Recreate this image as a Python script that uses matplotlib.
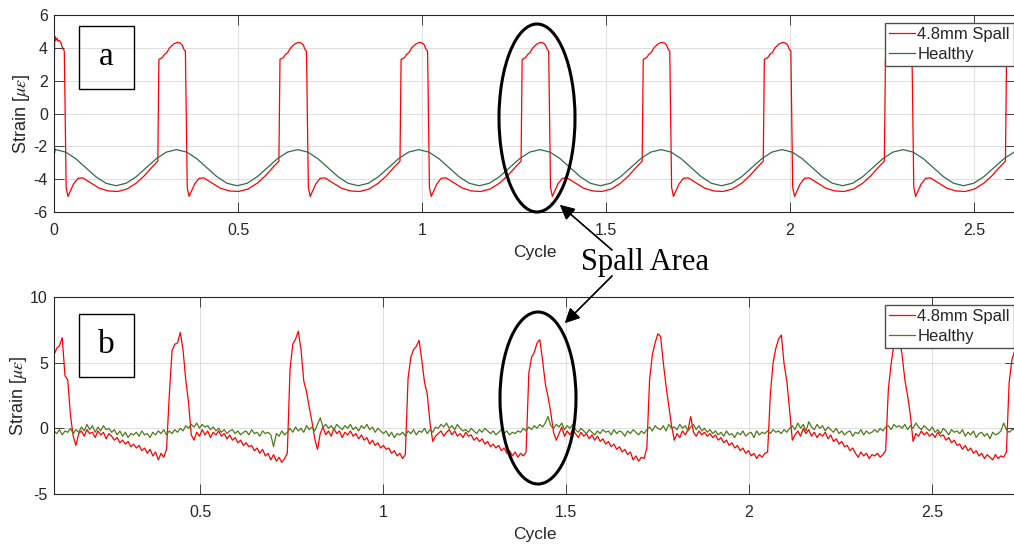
import matplotlib
matplotlib.use("Agg")
import matplotlib.pyplot as plt
import numpy as np
from matplotlib.patches import Ellipse, Rectangle

plt.rcParams['font.family'] = ['Liberation Sans', 'DejaVu Sans']
plt.rcParams['mathtext.fontset'] = 'stix'

# ---- data: (a) simulated strain ----
top_spall_x = [
    0.000, 0.002, 0.005, 0.008, 0.011, 0.015, 0.019, 0.022, 0.026, 0.028,
    0.033, 0.038, 0.044, 0.053, 0.065, 0.078, 0.098, 0.123, 0.148, 0.173,
    0.198, 0.223, 0.245, 0.265,
    0.282, 0.285, 0.294, 0.300, 0.306, 0.314, 0.324, 0.334, 0.342, 0.348,
    0.353, 0.357, 0.362, 0.367, 0.373, 0.382, 0.394, 0.407, 0.427, 0.452,
    0.477, 0.502, 0.527, 0.552, 0.574, 0.594,
    0.611, 0.614, 0.623, 0.629, 0.635, 0.643, 0.653, 0.663, 0.671, 0.677,
    0.682, 0.686, 0.691, 0.696, 0.702, 0.711, 0.723, 0.736, 0.756, 0.781,
    0.806, 0.831, 0.856, 0.881, 0.903, 0.923,
    0.940, 0.943, 0.952, 0.958, 0.964, 0.972, 0.982, 0.992, 1.000, 1.006,
    1.011, 1.015, 1.020, 1.025, 1.031, 1.040, 1.052, 1.065, 1.085, 1.110,
    1.135, 1.160, 1.185, 1.210, 1.232, 1.252,
    1.269, 1.272, 1.281, 1.287, 1.293, 1.301, 1.311, 1.321, 1.329, 1.335,
    1.340, 1.344, 1.349, 1.354, 1.360, 1.369, 1.381, 1.394, 1.414, 1.439,
    1.464, 1.489, 1.514, 1.539, 1.561, 1.581,
    1.598, 1.601, 1.610, 1.616, 1.622, 1.630, 1.640, 1.650, 1.658, 1.664,
    1.669, 1.673, 1.678, 1.683, 1.689, 1.698, 1.710, 1.723, 1.743, 1.768,
    1.793, 1.818, 1.843, 1.868, 1.890, 1.910,
    1.927, 1.930, 1.939, 1.945, 1.951, 1.959, 1.969, 1.979, 1.987, 1.993,
    1.998, 2.002, 2.007, 2.012, 2.018, 2.027, 2.039, 2.052, 2.072, 2.097,
    2.122, 2.147, 2.172, 2.197, 2.219, 2.239,
    2.256, 2.259, 2.268, 2.274, 2.280, 2.288, 2.298, 2.308, 2.316, 2.322,
    2.327, 2.331, 2.336, 2.341, 2.347, 2.356, 2.368, 2.381, 2.401, 2.426,
    2.451, 2.476, 2.501, 2.526, 2.548, 2.568,
    2.585, 2.588, 2.597, 2.603, 2.609, 2.617,
]
top_spall_y = [
    2.2, 4.7, 4.45, 4.6, 4.4, 4.45, 4.3, 4.05, 3.9, 3.8,
    -4.5, -5.05, -4.75, -4.3, -3.95, -3.92, -4.2, -4.55, -4.72, -4.75,
    -4.6, -4.25, -3.8, -3.3,
    -2.9, 3.3, 3.4, 3.6, 3.7, 4.0, 4.22, 4.33, 4.3, 4.18,
    3.9, 3.8, -4.5, -5.05, -4.75, -4.3, -3.95, -3.92, -4.2, -4.55,
    -4.72, -4.75, -4.6, -4.25, -3.8, -3.3,
    -2.9, 3.3, 3.4, 3.6, 3.7, 4.0, 4.22, 4.33, 4.3, 4.18,
    3.9, 3.8, -4.5, -5.05, -4.75, -4.3, -3.95, -3.92, -4.2, -4.55,
    -4.72, -4.75, -4.6, -4.25, -3.8, -3.3,
    -2.9, 3.3, 3.4, 3.6, 3.7, 4.0, 4.22, 4.33, 4.3, 4.18,
    3.9, 3.8, -4.5, -5.05, -4.75, -4.3, -3.95, -3.92, -4.2, -4.55,
    -4.72, -4.75, -4.6, -4.25, -3.8, -3.3,
    -2.9, 3.3, 3.4, 3.6, 3.7, 4.0, 4.22, 4.33, 4.3, 4.18,
    3.9, 3.8, -4.5, -5.05, -4.75, -4.3, -3.95, -3.92, -4.2, -4.55,
    -4.72, -4.75, -4.6, -4.25, -3.8, -3.3,
    -2.9, 3.3, 3.4, 3.6, 3.7, 4.0, 4.22, 4.33, 4.3, 4.18,
    3.9, 3.8, -4.5, -5.05, -4.75, -4.3, -3.95, -3.92, -4.2, -4.55,
    -4.72, -4.75, -4.6, -4.25, -3.8, -3.3,
    -2.9, 3.3, 3.4, 3.6, 3.7, 4.0, 4.22, 4.33, 4.3, 4.18,
    3.9, 3.8, -4.5, -5.05, -4.75, -4.3, -3.95, -3.92, -4.2, -4.55,
    -4.72, -4.75, -4.6, -4.25, -3.8, -3.3,
    -2.9, 3.3, 3.4, 3.6, 3.7, 4.0, 4.22, 4.33, 4.3, 4.18,
    3.9, 3.8, -4.5, -5.05, -4.75, -4.3, -3.95, -3.92, -4.2, -4.55,
    -4.72, -4.75, -4.6, -4.25, -3.8, -3.3,
    -2.9, 3.3, 3.4, 3.6, 3.7, 4.0,
]

top_healthy_start_x = [0.0, 0.0015, 0.003]
top_healthy_start_y = [-1.2, -2.4, -2.15]
top_healthy_y = [
    -2.20, -2.35, -2.75, -3.30, -3.85, -4.25, -4.40, -4.25, -3.85, -3.30, -2.75, -2.35,
    -2.20, -2.35, -2.75, -3.30, -3.85, -4.25, -4.40, -4.25, -3.85, -3.30, -2.75, -2.35,
    -2.20, -2.35, -2.75, -3.30, -3.85, -4.25, -4.40, -4.25, -3.85, -3.30, -2.75, -2.35,
    -2.20, -2.35, -2.75, -3.30, -3.85, -4.25, -4.40, -4.25, -3.85, -3.30, -2.75, -2.35,
    -2.20, -2.35, -2.75, -3.30, -3.85, -4.25, -4.40, -4.25, -3.85, -3.30, -2.75, -2.35,
    -2.20, -2.35, -2.75, -3.30, -3.85, -4.25, -4.40, -4.25, -3.85, -3.30, -2.75, -2.35,
    -2.20, -2.35, -2.75, -3.30, -3.85, -4.25, -4.40, -4.25, -3.85, -3.30, -2.75, -2.35,
    -2.20, -2.35, -2.75, -3.30, -3.85, -4.25, -4.40, -4.25, -3.85, -3.30, -2.75, -2.35,
    -2.20,
]

# ---- data: (b) measured strain, sampled every 0.0075 cycle from 0.101 ----
bot_spall_y = [
    5.6, 6.1, 6.3, 6.9, 4.0, 3.7, 1.0, -0.6, -1.3, -0.4,
    -0.2, -0.6, -0.1, -0.4, -0.3, -0.7, -0.2, -0.5, -0.3, -0.8,
    -0.4, -0.6, -0.9, -0.7, -1.1, -0.9, -1.2, -1.0, -1.4, -1.2,
    -1.5, -1.3, -1.7, -1.5, -1.9, -1.6, -2.1, -1.8, -2.4, -1.9,
    -2.2, -1.6, 2.5, 5.9, 6.4, 6.5, 7.3, 6.0, 3.7, 2.0,
    -0.5, -0.9, -0.3, -0.6, -0.1, -0.5, -0.2, -0.7, -0.3, -0.5,
    -0.2, -0.6, -0.4, -0.8, -0.5, -0.9, -0.7, -1.1, -0.9, -1.3,
    -1.1, -1.4, -1.3, -1.7, -1.5, -1.9, -1.6, -2.1, -1.9, -2.4,
    -2.0, -2.5, -2.2, -2.6, -2.3, -1.9, 4.5, 6.4, 6.8, 7.4,
    6.0, 3.6, 2.8, 1.6, 0.5, -0.8, -1.6, -0.4, 0.1, -0.5,
    -0.2, -0.6, 0.0, -0.4, -0.2, -0.7, -0.3, -0.5, -0.2, -0.6,
    -0.4, -0.8, -0.5, -0.9, -0.7, -1.2, -0.9, -1.3, -1.1, -1.5,
    -1.3, -1.6, -1.5, -1.9, -1.7, -2.1, -1.9, -2.3, -2.0, 3.8,
    5.4, 6.0, 6.25, 6.7, 5.2, 3.5, 2.6, 0.4, -1.0, -0.6,
    -0.4, -0.2, -0.6, -0.3, -0.1, -0.5, -0.2, -0.6, -0.4, -0.7,
    -0.3, -0.6, -0.5, -0.9, -0.7, -1.0, -0.8, -1.2, -1.0, -1.4,
    -1.2, -1.5, -1.3, -1.7, -1.5, -1.9, -1.7, -2.1, -1.8, -2.2,
    -1.9, -2.1, -1.8, 4.2, 5.4, 5.8, 6.5, 6.75, 5.2, 3.4,
    2.4, 1.2, -0.3, -0.9, -0.4, 0.1, -0.6, -0.2, -0.5, -0.1,
    -0.4, -0.7, -0.3, -0.6, -0.4, -0.8, -0.5, -0.9, -0.6, -1.0,
    -0.8, -1.2, -1.0, -1.4, -1.2, -1.6, -1.4, -1.8, -1.6, -2.0,
    -1.8, -2.4, -2.1, -2.5, -2.2, -2.3, -1.5, 3.7, 5.6, 6.5,
    7.2, 7.0, 5.0, 3.2, 1.7, 0.2, -0.9, -0.4, -0.7, -0.2,
    -0.5, -0.1, 0.9, -0.3, -0.6, -0.2, -0.5, -0.3, -0.6, -0.4,
    -0.7, -0.5, -0.9, -0.7, -1.1, -0.9, -1.3, -1.1, -1.5, -1.3,
    -1.7, -1.5, -1.9, -1.7, -2.1, -1.9, -2.3, -2.0, -2.2, -1.9,
    -1.8, 2.6, 5.0, 6.1, 6.8, 7.1, 4.9, 3.6, 1.4, -0.9,
    -0.5, -0.2, -0.6, 0.0, -0.4, -0.1, -0.6, -0.3, -0.7, -0.4,
    -0.6, -0.3, -0.8, -0.5, -1.0, -0.8, -1.2, -1.0, -1.4, -1.3,
    -1.7, -1.5, -1.9, -2.2, -1.8, -2.1, -1.9, -2.3, -2.0, -2.1,
    -1.9, -2.2, -2.0, -1.7, 3.0, 4.9, 6.4, 7.3, 6.9, 5.6,
    3.7, 2.5, 1.0, -1.0, -0.4, -0.6, -0.2, -0.5, -0.3, -0.6,
    -0.4, -0.7, -0.3, -0.6, -0.5, -0.9, -0.7, -1.1, -0.9, -1.3,
    -1.2, -1.6, -1.3, -1.7, -1.5, -1.9, -1.7, -2.1, -1.9, -2.3,
    -2.0, -2.2, -2.4, -2.0, -2.3, -2.1, -2.2, -1.8, 3.5, 5.2,
    5.9,
]
bot_healthy_y = [
    -0.2, -0.4, -0.1, -0.5, -0.2, -0.3, 0.0, -0.4, -0.1, -0.3,
    0.1, -0.2, 0.3, -0.1, 0.2, -0.3, 0.1, -0.2, 0.2, -0.1,
    0.0, -0.3, -0.1, -0.5, -0.2, -0.6, -0.3, -0.7, -0.4, -0.5,
    -0.3, -0.6, -0.2, -0.5, -0.4, -0.7, -0.3, -0.5, -0.2, -0.4,
    -0.1, -0.5, -0.2, -0.4, -0.1, -0.3, 0.0, -0.2, 0.2, 0.0,
    0.3, 0.1, 0.4, 0.0, 0.3, 0.1, 0.2, -0.1, 0.1, -0.2,
    0.0, -0.3, -0.1, -0.4, -0.2, -0.1, -0.4, -0.2, -0.5, -0.3,
    -0.2, -0.5, -0.1, -0.4, -0.3, -0.6, -0.2, -0.4, -0.3, -0.5,
    -1.4, -0.4, -0.6, -0.2, -0.5, -0.3, 0.0, -0.3, 0.1, -0.2,
    0.0, -0.3, 0.2, -0.1, 0.1, -0.2, 0.3, 0.8, 0.1, 0.3,
    0.0, 0.2, -0.1, 0.3, 0.1, -0.1, 0.2, 0.0, 0.3, -0.1,
    0.1, -0.2, 0.2, 0.0, 0.3, -0.1, 0.1, -0.3, 0.0, -0.2,
    -0.4, -0.2, -0.6, -0.3, -0.7, -0.4, -0.5, -0.3, -0.6, -0.2,
    -0.4, -0.1, -0.5, -0.2, -0.3, 0.0, -0.4, -0.1, -0.3, 0.1,
    0.0, 0.3, 0.1, 0.4, 0.0, 0.2, -0.1, 0.3, 0.0, -0.2,
    -0.1, -0.3, 0.0, -0.2, -0.4, -0.1, -0.3, 0.0, -0.2, -0.4,
    -0.2, -0.5, -0.3, -0.1, -0.4, -0.2, -0.5, -0.3, -0.4, -0.2,
    -0.3, 0.0, -0.2, 0.1, -0.1, 0.2, 0.0, 0.3, 0.1, 0.4,
    0.9, 0.2, 0.0, 0.3, 0.1, 0.4, -0.1, 0.2, 0.0, 0.3,
    -0.1, -0.3, 0.0, -0.2, -0.4, -0.1, -0.3, -0.5, -0.2, -0.4,
    -0.1, -0.3, -0.2, -0.5, -0.1, -0.4, -0.2, -0.3, -0.6, -0.2,
    -0.4, -0.1, -0.3, -0.5, -0.2, -0.4, -0.1, 0.1, -0.2, 0.2,
    0.0, -0.1, 0.2, -0.2, 0.3, 0.0, 0.1, -0.1, 0.3, 0.0,
    0.2, -0.2, 0.1, 0.3, -0.1, 0.2, -0.2, 0.0, -0.3, -0.1,
    -0.4, -0.2, -0.5, -0.3, -0.6, -0.2, -0.5, -0.4, -0.7, -0.3,
    -0.5, -0.2, -0.6, -0.4, -0.3, -0.7, -0.2, -0.5, -0.3, -0.4,
    -0.2, -0.4, -0.1, -0.3, -0.2, -0.4, -0.1, -0.3, 0.0, 0.2,
    -0.1, 0.4, 0.0, 0.3, -0.2, 0.5, 0.1, -0.1, 0.3, 0.0,
    0.2, -0.2, 0.1, -0.1, -0.3, 0.0, -0.4, -0.2, -0.5, -0.3,
    -0.2, -0.6, -0.3, -0.4, -0.1, -0.5, -0.2, -0.4, -0.3, -0.1,
    -0.3, 0.0, -0.2, 0.1, 0.2, -0.1, 0.3, 0.1, 0.2, 0.0,
    0.3, -0.1, 0.2, 0.0, 0.4, 0.1, -0.1, 0.2, 0.0, -0.2,
    0.1, -0.3, -0.1, -0.4, 0.0, -0.2, -0.5, -0.1, -0.3, -0.2,
    -0.4, -0.1, -0.6, -0.3, -0.5, -0.2, -0.7, -0.4, -0.3, -0.6,
    -0.4, -0.8, -0.3, -0.5, -0.4, -0.2, 0.4, -0.1, -0.3, -0.1,
    -0.1,
]

series_labels = ['4.8mm Spall', 'Healthy']
top_xticks = [0, 0.5, 1, 1.5, 2, 2.5]
top_yticks = [-6, -4, -2, 0, 2, 4, 6]
bot_xticks = [0.5, 1, 1.5, 2, 2.5]
bot_yticks = [-5, 0, 5, 10]

# sample grids
t_top_healthy = np.concatenate([top_healthy_start_x, np.linspace(0.004, 2.636, len(top_healthy_y))])
y_top_healthy = np.concatenate([top_healthy_start_y, top_healthy_y])
t_bot = np.linspace(0.101, 2.726, len(bot_spall_y))

RED = '#ff0000'
GREEN_A = '#2f6b4f'
GREEN_B = '#4e7a1e'
INK = '#262626'

W, H = 1014, 544
fig = plt.figure(figsize=(W / 100, H / 100), dpi=100)
ax1 = fig.add_axes([54 / W, 1 - 212 / H, 961 / W, 197 / H])
ax2 = fig.add_axes([54 / W, 1 - 494 / H, 961 / W, 197 / H])


def style(ax, xlim, ylim, xt, yt):
    ax.set_xlim(*xlim)
    ax.set_ylim(*ylim)
    ax.set_xticks(xt)
    ax.set_yticks(yt)
    ax.set_xticklabels([f'{v:g}' for v in xt])
    ax.set_yticklabels([f'{v:g}' for v in yt])
    ax.tick_params(direction='in', length=7, width=0.6, colors=INK,
                   labelsize=11.5, top=True, right=True)
    ax.tick_params(axis='x', pad=8)
    ax.tick_params(axis='y', pad=4.5)
    ax.grid(True, color='#dedede', lw=0.7)
    ax.set_axisbelow(True)
    for s in ax.spines.values():
        s.set_color(INK)
        s.set_linewidth(0.8)
    ax.set_xlabel('Cycle', fontsize=12.5, color=INK, labelpad=5)
    ax.set_ylabel(r'Strain [$\mu\epsilon$]', fontsize=13, color=INK, labelpad=1)


ax1.plot(top_spall_x, top_spall_y, color=RED, lw=0.9, label=series_labels[0])
ax1.plot(t_top_healthy, y_top_healthy, color=GREEN_A, lw=0.9, label=series_labels[1])
style(ax1, (0, 2.611), (-6, 6), top_xticks, top_yticks)

ax2.plot(t_bot, bot_spall_y, color=RED, lw=0.9, label=series_labels[0])
ax2.plot(t_bot, bot_healthy_y, color=GREEN_B, lw=0.9, label=series_labels[1])
style(ax2, (0.101, 2.727), (-5, 10), bot_xticks, bot_yticks)

for ax in (ax1, ax2):
    leg = ax.legend(loc='upper left', bbox_to_anchor=((885 - 54) / 961, (212 - 23) / 197),
                    borderaxespad=0, fontsize=12, handlelength=1.55, handletextpad=0.15,
                    borderpad=0.25, labelspacing=0.3, fancybox=False, framealpha=1)
    leg.get_frame().set_edgecolor('#4d4d4d')
    leg.get_frame().set_linewidth(1.0)
    for t in leg.get_texts():
        t.set_color(INK)

# panel tags
for tag, top in (('a', 26), ('b', 314)):
    fig.add_artist(Rectangle((79 / W, 1 - (top + 63) / H), 55 / W, 63 / H,
                             transform=fig.transFigure, fill=False, lw=1.0, ec='k'))
    fig.text(106 / W, 1 - (top + 31) / H, tag, family='Liberation Serif', fontsize=24,
             ha='center', va='center')

# spall highlight ellipses
fig.add_artist(Ellipse((537 / W, 1 - 118 / H), 76 / W, 188 / H, transform=fig.transFigure,
                       fill=False, lw=2.2, ec='k', zorder=10))
fig.add_artist(Ellipse((538 / W, 1 - 398 / H), 76 / W, 172 / H, transform=fig.transFigure,
                       fill=False, lw=2.2, ec='k', zorder=10))

fig.text(645 / W, 1 - 262 / H, 'Spall Area', family='Liberation Serif', fontsize=22,
         ha='center', va='center')
arrow = dict(arrowstyle='-|>', mutation_scale=22, lw=1.0, color='k', shrinkA=0, shrinkB=0)
fig.add_artist(plt.annotate('', xy=(560 / W, 1 - 205 / H), xytext=(612 / W, 1 - 250 / H),
                            xycoords='figure fraction', arrowprops=arrow))
fig.add_artist(plt.annotate('', xy=(565 / W, 1 - 323 / H), xytext=(612 / W, 1 - 276 / H),
                            xycoords='figure fraction', arrowprops=arrow))

fig.savefig('out.png', dpi=100)
